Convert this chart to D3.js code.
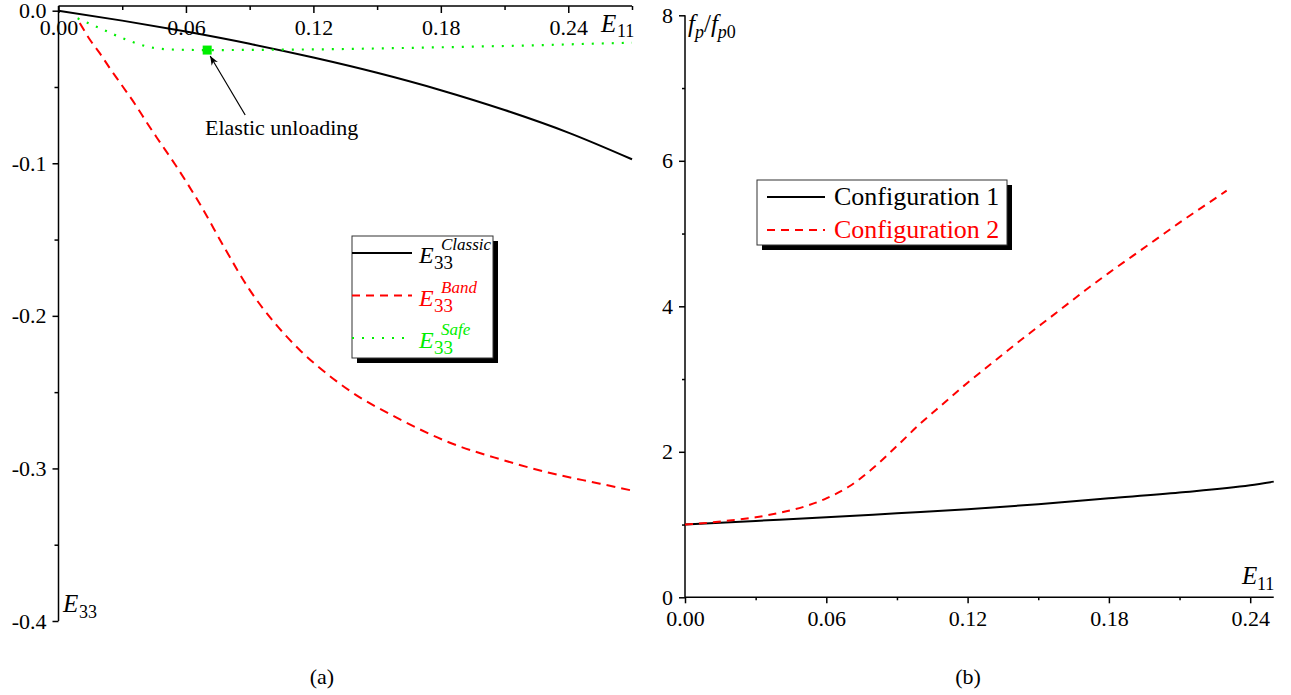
<!DOCTYPE html>
<html>
<head>
<meta charset="utf-8">
<script src="https://cdn.jsdelivr.net/npm/d3@7"></script>
<style>
  html, body { margin: 0; padding: 0; background: #fff; }
  svg { display: block; }
  text { font-family: 'Liberation Serif', 'Times New Roman', serif; }
</style>
</head>
<body>
<svg id="chart" width="1291" height="695"></svg>
<script>
// ---------------- DATA ----------------
// Panel (a)
const e11Classic = [0, 0.03, 0.06, 0.09, 0.12, 0.15, 0.18, 0.21, 0.24, 0.27];
const e33Classic = [0, -0.0065, -0.0137, -0.0217, -0.0307, -0.0407, -0.0521, -0.0651, -0.0799, -0.0974];

const e11Band = [0.010, 0.0148, 0.0195, 0.0243, 0.0304, 0.0364, 0.0417, 0.0464, 0.055, 0.0667, 0.0784, 0.090, 0.102, 0.114, 0.1255, 0.137, 0.161, 0.184, 0.208, 0.2315, 0.255, 0.27];
const e33Band = [-0.008, -0.019, -0.028, -0.038, -0.050, -0.062, -0.0736, -0.0834, -0.101, -0.127, -0.156, -0.183, -0.205, -0.223, -0.237, -0.249, -0.268, -0.283, -0.294, -0.303, -0.310, -0.3145];

const e11Safe = [0.009, 0.0195, 0.032, 0.0445, 0.055, 0.070, 0.10, 0.13, 0.16, 0.19, 0.22, 0.25, 0.27];
const e33Safe = [-0.005, -0.0115, -0.019, -0.0243, -0.0255, -0.0258, -0.0256, -0.0252, -0.0245, -0.0237, -0.0228, -0.0217, -0.021];

const unloadE11 = 0.070;
const unloadE33 = -0.0258;

const aXTicks = [0, 0.06, 0.12, 0.18, 0.24];
const aXMinor = [0.03, 0.09, 0.15, 0.21, 0.27];
const aYTicks = [0, -0.1, -0.2, -0.3, -0.4];
const aYMinor = [-0.05, -0.15, -0.25, -0.35];

// Panel (b)
const e11Conf1 = [0, 0.03, 0.06, 0.09, 0.12, 0.15, 0.18, 0.21, 0.24, 0.25];
const conf1 = [1.0, 1.05, 1.10, 1.155, 1.21, 1.28, 1.36, 1.44, 1.54, 1.59];

const e11Conf2 = [0, 0.01, 0.02, 0.03, 0.04, 0.05, 0.06, 0.07, 0.08, 0.09, 0.10, 0.11, 0.12, 0.13, 0.14, 0.15, 0.16, 0.17, 0.18, 0.19, 0.20, 0.21, 0.22, 0.23];
const conf2 = [1.0, 1.025, 1.06, 1.10, 1.16, 1.24, 1.36, 1.53, 1.78, 2.08, 2.39, 2.67, 2.95, 3.21, 3.47, 3.72, 3.97, 4.22, 4.46, 4.69, 4.92, 5.15, 5.37, 5.59];

const bXTicks = [0, 0.06, 0.12, 0.18, 0.24];
const bXMinor = [0.03, 0.09, 0.15, 0.21];
const bYTicks = [0, 2, 4, 6, 8];
const bYMinor = [1, 3, 5, 7];

const legendA = ["Classic", "Band", "Safe"];
const legendB = ["Configuration 1", "Configuration 2"];

// ---------------- STYLE ----------------
const RED = "#ff0000", GREEN = "#00ee00", BLACK = "#000";
const tickFont = 22;
const hy = f => d => f(d).replace("\u2212", "-");

const svg = d3.select("#chart");

function styleAxis(g) {
  g.attr("font-family", null);
  g.selectAll("path.domain").remove();
  g.selectAll("line").attr("stroke", BLACK).attr("stroke-width", 1.5);
  g.selectAll("text").attr("font-size", tickFont).attr("fill", BLACK)
    .style("font-family", "'Liberation Serif','Times New Roman',serif");
}

// ================= PANEL (a) =================
const xa = d3.scaleLinear().domain([0, 0.27]).range([58.5, 632]);
const ya = d3.scaleLinear().domain([0, -0.4]).range([10.7, 621]);
const aTop = 6;

const ga = svg.append("g");

ga.append("line").attr("x1", xa(0)).attr("x2", xa(0)).attr("y1", aTop).attr("y2", ya(-0.4))
  .attr("stroke", BLACK).attr("stroke-width", 1.5);
ga.append("line").attr("x1", xa(0)).attr("x2", xa(0.27)).attr("y1", aTop).attr("y2", aTop)
  .attr("stroke", BLACK).attr("stroke-width", 1.5);

ga.append("g").attr("transform", `translate(0,${aTop})`)
  .call(d3.axisBottom(xa).tickValues(aXTicks).tickSize(7).tickPadding(6).tickFormat(d3.format(".2f")))
  .call(styleAxis);
ga.append("g").attr("transform", `translate(0,${aTop})`)
  .call(d3.axisBottom(xa).tickValues(aXMinor).tickSize(4).tickFormat(""))
  .call(styleAxis);

ga.append("g").attr("transform", `translate(${xa(0)},0)`)
  .call(d3.axisLeft(ya).tickValues(aYTicks).tickSize(6).tickPadding(6).tickFormat(hy(d3.format(".1f"))))
  .call(styleAxis);
ga.append("g").attr("transform", `translate(${xa(0)},0)`)
  .call(d3.axisLeft(ya).tickValues(aYMinor).tickSize(4).tickFormat(""))
  .call(styleAxis);

ga.append("text").attr("x", 601).attr("y", 32).attr("font-size", 25).attr("font-style", "italic").text("E");
ga.append("text").attr("x", 617).attr("y", 37).attr("font-size", 18).text("11");
ga.append("text").attr("x", 63).attr("y", 612).attr("font-size", 25).attr("font-style", "italic").text("E");
ga.append("text").attr("x", 79).attr("y", 618).attr("font-size", 18).text("33");

const lineA = d3.line().curve(d3.curveMonotoneX);

ga.append("path")
  .attr("d", lineA(e11Classic.map((d, i) => [xa(d), ya(e33Classic[i])])))
  .attr("fill", "none").attr("stroke", BLACK).attr("stroke-width", 2);
ga.append("path")
  .attr("d", lineA(e11Band.map((d, i) => [xa(d), ya(e33Band[i])])))
  .attr("fill", "none").attr("stroke", RED).attr("stroke-width", 2).attr("stroke-dasharray", "9,6");
ga.append("path")
  .attr("d", lineA(e11Safe.map((d, i) => [xa(d), ya(e33Safe[i])])))
  .attr("fill", "none").attr("stroke", GREEN).attr("stroke-width", 2.2).attr("stroke-dasharray", "2,8");

ga.append("rect")
  .attr("x", xa(unloadE11) - 4.5).attr("y", ya(unloadE33) - 4.5)
  .attr("width", 9).attr("height", 9).attr("fill", GREEN);

svg.append("defs").append("marker")
  .attr("id", "arrowhead").attr("viewBox", "0 0 10 10").attr("refX", 10).attr("refY", 5)
  .attr("markerWidth", 9).attr("markerHeight", 9).attr("markerUnits", "userSpaceOnUse")
  .attr("orient", "auto")
  .append("path").attr("d", "M0,1 L10,5 L0,9 L3,5 Z").attr("fill", BLACK);

ga.append("line")
  .attr("x1", xa(unloadE11) + 38).attr("y1", ya(unloadE33) + 65)
  .attr("x2", xa(unloadE11) + 3).attr("y2", ya(unloadE33) + 6)
  .attr("stroke", BLACK).attr("stroke-width", 1.2).attr("marker-end", "url(#arrowhead)");
ga.append("text").attr("x", 205).attr("y", 135).attr("font-size", 22).text("Elastic unloading");

// legend (a)
const la = ga.append("g").attr("transform", "translate(352,236)");
la.append("rect").attr("x", 5).attr("y", 5).attr("width", 141).attr("height", 122).attr("fill", BLACK);
la.append("rect").attr("x", 0).attr("y", 0).attr("width", 141).attr("height", 122)
  .attr("fill", "#fff").attr("stroke", "#333").attr("stroke-width", 1);
const legColors = [BLACK, RED, GREEN];
const legDash = [null, "8,6", "2,8"];
legendA.forEach((name, i) => {
  const yy = 17 + i * 42.5;
  la.append("line").attr("x1", 0).attr("x2", 60).attr("y1", yy).attr("y2", yy)
    .attr("stroke", legColors[i]).attr("stroke-width", 2).attr("stroke-dasharray", legDash[i]);
  la.append("text").attr("x", 67).attr("y", yy + 10).attr("font-size", 24).attr("font-style", "italic")
    .attr("fill", legColors[i]).text("E");
  la.append("text").attr("x", 82).attr("y", yy + 16).attr("font-size", 19)
    .attr("fill", legColors[i]).text("33");
  la.append("text").attr("x", 89).attr("y", yy - 3).attr("font-size", 17).attr("font-style", "italic")
    .attr("fill", legColors[i]).text(name);
});

// ================= PANEL (b) =================
const xb = d3.scaleLinear().domain([0, 0.25]).range([685, 1273.75]);
const yb = d3.scaleLinear().domain([0, 8]).range([597.3, 15.3]);
const gb = svg.append("g");

gb.append("line").attr("x1", xb(0)).attr("x2", xb(0)).attr("y1", yb(8)).attr("y2", yb(0))
  .attr("stroke", BLACK).attr("stroke-width", 1.5);
gb.append("line").attr("x1", xb(0)).attr("x2", xb(0.25)).attr("y1", yb(0)).attr("y2", yb(0))
  .attr("stroke", BLACK).attr("stroke-width", 1.5);

gb.append("g").attr("transform", `translate(0,${yb(0)})`)
  .call(d3.axisBottom(xb).tickValues(bXTicks).tickSize(6).tickPadding(7).tickFormat(d3.format(".2f")))
  .call(styleAxis);
gb.append("g").attr("transform", `translate(0,${yb(0)})`)
  .call(d3.axisBottom(xb).tickValues(bXMinor).tickSize(3).tickFormat(""))
  .call(styleAxis);
gb.append("g").attr("transform", `translate(${xb(0)},0)`)
  .call(d3.axisLeft(yb).tickValues(bYTicks).tickSize(6).tickPadding(6).tickFormat(d3.format("d")))
  .call(styleAxis);
gb.append("g").attr("transform", `translate(${xb(0)},0)`)
  .call(d3.axisLeft(yb).tickValues(bYMinor).tickSize(3).tickFormat(""))
  .call(styleAxis);

gb.append("text").attr("x", 1242).attr("y", 584).attr("font-size", 25).attr("font-style", "italic").text("E");
gb.append("text").attr("x", 1257).attr("y", 590).attr("font-size", 18).text("11");

const fp = gb.append("text").attr("x", 688).attr("y", 32).attr("font-size", 25);
fp.append("tspan").attr("font-style", "italic").text("f");
fp.append("tspan").attr("font-style", "italic").attr("font-size", 18).attr("dy", 6).text("p");
fp.append("tspan").attr("dy", -6).text("/");
fp.append("tspan").attr("font-style", "italic").text("f");
fp.append("tspan").attr("font-style", "italic").attr("font-size", 18).attr("dy", 6).text("p");
fp.append("tspan").attr("font-size", 18).text("0");

const lineB = d3.line().curve(d3.curveMonotoneX);
gb.append("path")
  .attr("d", lineB(e11Conf1.map((d, i) => [xb(d), yb(conf1[i])])))
  .attr("fill", "none").attr("stroke", BLACK).attr("stroke-width", 2);
gb.append("path")
  .attr("d", lineB(e11Conf2.map((d, i) => [xb(d), yb(conf2[i])])))
  .attr("fill", "none").attr("stroke", RED).attr("stroke-width", 2).attr("stroke-dasharray", "8,6");

// legend (b)
const lb = gb.append("g").attr("transform", "translate(757,180)");
lb.append("rect").attr("x", 5).attr("y", 5).attr("width", 250).attr("height", 65).attr("fill", BLACK);
lb.append("rect").attr("x", 0).attr("y", 0).attr("width", 250).attr("height", 65)
  .attr("fill", "#fff").attr("stroke", "#333").attr("stroke-width", 1);
legendB.forEach((name, i) => {
  const yy = 17 + i * 33;
  const c = i === 0 ? BLACK : RED;
  lb.append("line").attr("x1", 10).attr("x2", 68).attr("y1", yy).attr("y2", yy)
    .attr("stroke", c).attr("stroke-width", 2).attr("stroke-dasharray", i === 0 ? null : "8,6");
  lb.append("text").attr("x", 77).attr("y", yy + 8).attr("font-size", 26).attr("fill", c).text(name);
});

svg.append("text").attr("x", 322).attr("y", 684).attr("text-anchor", "middle").attr("font-size", 22).text("(a)");
svg.append("text").attr("x", 968).attr("y", 684).attr("text-anchor", "middle").attr("font-size", 22).text("(b)");
</script>
</body>
</html>
